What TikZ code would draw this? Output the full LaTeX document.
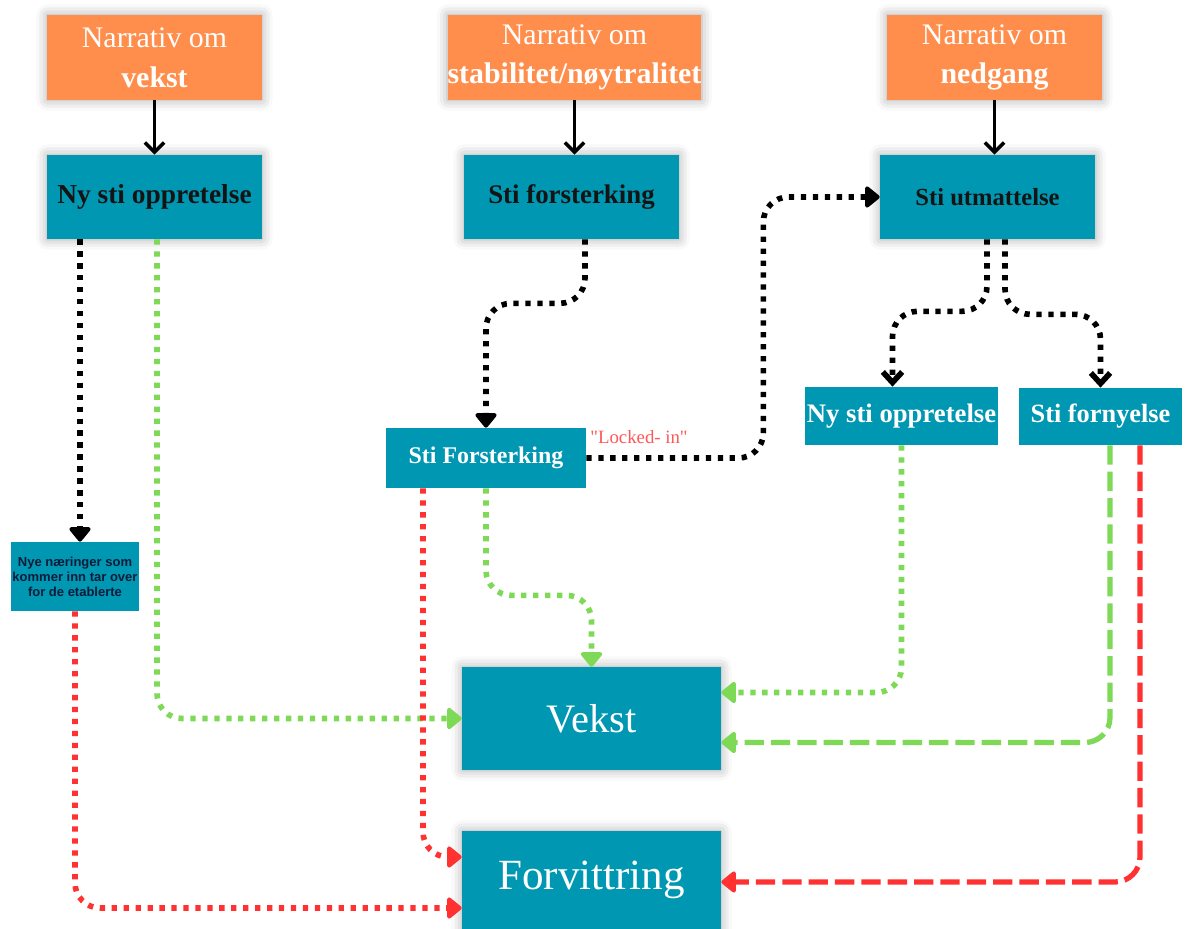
\documentclass[tikz,border=0pt]{standalone}
\usepackage{fontspec}
\setmainfont{Liberation Serif}
\newfontfamily\notesans{Liberation Sans}
\usepackage{tikz}
\usetikzlibrary{arrows.meta}
\usetikzlibrary{calc}
\usetikzlibrary{shadows.blur}
\definecolor{narrorange}{RGB}{255,142,76}
\definecolor{stiteal}{RGB}{0,151,178}
\definecolor{vekstgreen}{RGB}{126,217,87}
\definecolor{forvred}{RGB}{255,49,49}
\definecolor{lockedred}{RGB}{255,87,87}
\definecolor{notenavy}{RGB}{12,28,58}
\tikzset{
every picture/.style={x=0.02cm, y=-0.02cm},
%%%%%%%%%%  Box styles
boxshadow/.style={blur shadow={shadow xshift=0pt, shadow yshift=0pt,
                  shadow blur radius=6pt, shadow opacity=35}},
narrative/.style={fill=narrorange, text=white, align=center, inner sep=0pt,
                  minimum width=4.3cm, minimum height=1.7cm,
                  font=\fontsize{17}{22.5}\selectfont, boxshadow},
pathbox/.style={fill=stiteal, text=black!92, align=center, inner sep=0pt,
                minimum width=4.3cm, minimum height=1.68cm, boxshadow},
smallbox/.style={fill=stiteal, text=white, align=center, inner sep=0pt,
                 font=\bfseries},
notebox/.style={fill=stiteal, text=notenavy, align=center, inner sep=0pt,
                minimum width=2.56cm, minimum height=1.38cm,
                font=\notesans\bfseries\fontsize{7.4}{8.5}\selectfont},
outcome/.style={fill=stiteal, text=white, align=center, inner sep=0pt,
                minimum width=5.18cm, boxshadow},
lockedlabel/.style={text=lockedred, inner sep=0pt,
                    font=\fontsize{10.7}{12}\selectfont},
%%%%%%%% different line styles:
solidarrow/.style={draw=black, line width=2pt,
                   -{Straight Barb[width=11pt,length=5.5pt]}},
dotline/.style={line width=3.2pt, dash pattern=on 3pt off 3.8pt,
                rounded corners=0.5cm},
dashline/.style={line width=3pt, dash pattern=on 11pt off 4pt,
                 rounded corners=0.5cm},
filltip/.style={-{Triangle[width=14pt,length=9pt,round]}},
barbtip/.style={-{Straight Barb[width=11pt,length=6pt]}},
blackdots/.style={dotline, draw=black, filltip},
blackbarbs/.style={dotline, draw=black, barbtip},
greendots/.style={dotline, draw=vekstgreen, filltip},
reddots/.style={dotline, draw=forvred, filltip},
greendash/.style={dashline, draw=vekstgreen, filltip},
reddash/.style={dashline, draw=forvred, filltip}
}
\begin{document}
\begin{tikzpicture}
\useasboundingbox (0,0) rectangle (1187,929);
%% narratives
\node[narrative] (n1) at (154.5,57.5) {Narrativ om\\\textbf{vekst}};
\node[narrative] (n2) at (574.5,57.5) {Narrativ om\\\textbf{stabilitet/nøytralitet}};
\node[narrative] (n3) at (994.5,57.5) {Narrativ om\\\textbf{nedgang}};
%% paths
\node[pathbox, font=\bfseries\fontsize{15.6}{18}\selectfont] (b1) at (154.5,197) {Ny sti oppretelse};
\node[pathbox, font=\bfseries\fontsize{15.3}{18}\selectfont] (b2) at (571.5,197) {Sti forsterking};
\node[pathbox, font=\bfseries\fontsize{14}{18}\selectfont] (b3) at (987.5,197) {Sti utmattelse};
%% second level
\node[smallbox, minimum width=4cm, minimum height=1.2cm,
      font=\bfseries\fontsize{13.6}{16}\selectfont] (s1) at (486,458) {Sti Forsterking};
\node[smallbox, minimum width=3.86cm, minimum height=1.16cm,
      font=\bfseries\fontsize{15.2}{18}\selectfont] (s2) at (901.5,416) {Ny sti oppretelse};
\node[smallbox, minimum width=3.26cm, minimum height=1.14cm,
      font=\bfseries\fontsize{15}{18}\selectfont] (s3) at (1100.5,416.5) {Sti fornyelse};
\node[notebox] (s4) at (75,576.5) {Nye næringer som\\kommer inn tar over\\for de etablerte};
%% outcomes
\node[outcome, minimum height=2.06cm, font=\fontsize{23}{26}\selectfont] (v) at (591.5,718.5) {Vekst};
\node[outcome, minimum height=1.96cm, font=\fontsize{24.5}{28}\selectfont] (f) at (591.5,880) {Forvittring};
\node[lockedlabel] (lk) at (639,437) {\textquotedbl Locked- in\textquotedbl};
%% narrative to path
\draw[solidarrow] (n1.south) -- (n1.south |- b1.north);
\draw[solidarrow] (n2.south) -- (n2.south |- b2.north);
\draw[solidarrow] (n3.south) -- (n3.south |- b3.north);
%% black dotted
\draw[blackdots] ($(b1.south)+(-74.5,0)$) -- ($(s4.north)+(5,0)$);
\draw[blackdots] ($(b2.south)+(13.5,0)$) -- ++(0,64) -| (s1.north);
\draw[blackdots] (s1.east) -- ++(177,0) |- (b3.west);
\draw[blackbarbs] ($(b3.south)+(-0.5,0)$) -- ++(0,72) -| ($(s2.north)+(-9,0)$);
\draw[blackbarbs] ($(b3.south)+(17.5,0)$) -- ++(0,75) -| (s3.north);
%% green, to Vekst
\draw[greendots] ($(b1.south)+(2.5,0)$) |- (v.west);
\draw[greendots] (s1.south) -- ++(0,107) -| (v.north);
\draw[greendots] (s2.south) |- ($(v.east)+(0,-26)$);
\draw[greendash] ($(s3.south)+(9.5,0)$) |- ($(v.east)+(0,24)$);
%% red, to Forvittring
\draw[reddots] (s4.south) |- ($(f.west)+(0,28)$);
\draw[reddots] ($(s1.south)+(-63,0)$) |- ($(f.west)+(0,-23)$);
\draw[reddash] ($(s3.south)+(39.5,0)$) |- ($(f.east)+(0,2)$);
\end{tikzpicture}
\end{document}
